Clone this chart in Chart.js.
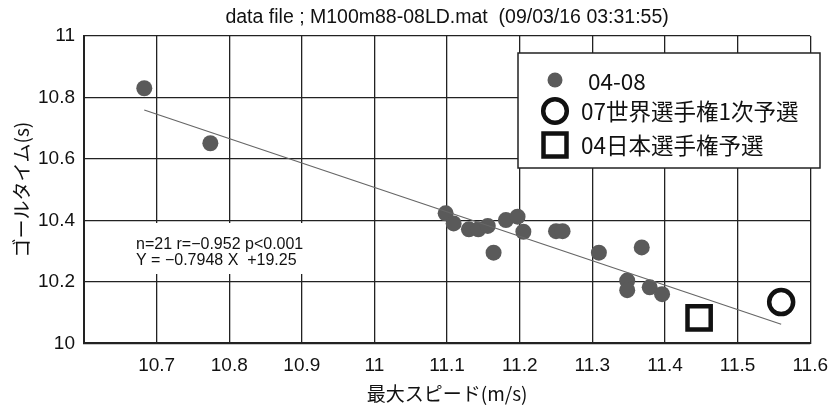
<!DOCTYPE html>
<html>
<head>
<meta charset="utf-8">
<script src="https://cdn.jsdelivr.net/npm/chart.js@4.4.1/dist/chart.umd.min.js"></script>
<style>
  html, body { margin: 0; padding: 0; background: #fff; }
  #wrap { width: 839px; height: 408px; }
</style>
</head>
<body>
<div id="wrap"><canvas id="c"></canvas></div>
<script>
const titleText = "data file ; M100m88-08LD.mat  (09/03/16 03:31:55)";
const xTitle = "最大スピード(m/s)";
const yTitle = "ゴールタイム(s)";
const seriesNames = ["04-08", "07世界選手権1次予選", "04日本選手権予選"];

// 04-08 races
const speed0408 = [10.683, 10.774, 11.098, 11.109, 11.130, 11.143, 11.156, 11.164, 11.181, 11.197,
                   11.205, 11.250, 11.259, 11.309, 11.368, 11.348, 11.348, 11.379, 11.396];
const time0408  = [10.830, 10.651, 10.423, 10.390, 10.371, 10.371, 10.382, 10.295, 10.401, 10.412,
                   10.363, 10.365, 10.365, 10.295, 10.312, 10.204, 10.173, 10.182, 10.160];
const speedWorld07 = [11.560];
const timeWorld07  = [10.134];
const speedJapan04 = [11.447];
const timeJapan04  = [10.083];

const slope = -0.7948;
const intercept = 19.25;
const statLines = ["n=21 r=\u22120.952 p<0.001", "Y = \u22120.7948 X  +19.25"];

const xTicks = [10.6, 11.6, 0.1];
const yTicks = [10, 11, 0.2];

const pts = (xs, ys) => xs.map((x, i) => ({ x: x, y: ys[i] }));
const allX = speed0408.concat(speedWorld07, speedJapan04);
const xLo = Math.min(...allX), xHi = Math.max(...allX);
const fitLine = [xLo, xHi].map(x => ({ x: x, y: slope * x + intercept }));

const DOT = "#5a5a5a";
const INK = "#111";

const extras = {
  id: "extras",
  afterDraw(chart) {
    const ctx = chart.ctx;
    const ca = chart.chartArea;
    ctx.save();
    // title
    ctx.fillStyle = INK;
    ctx.font = "19.5px 'Liberation Sans'";
    ctx.textAlign = "center";
    ctx.textBaseline = "middle";
    ctx.fillText(titleText, (ca.left + ca.right) / 2, 18);

    // stats text
    ctx.fillStyle = "#fff";
    ctx.fillRect(95, 223, 225, 51);
    ctx.fillStyle = INK;
    ctx.font = "16px 'Liberation Sans'";
    ctx.textAlign = "left";
    ctx.fillText(statLines[0], 136, 245);
    ctx.fillText(statLines[1], 136, 261);

    // legend
    ctx.fillStyle = "#fff";
    ctx.fillRect(518, 53, 302, 115);
    ctx.strokeStyle = "#222";
    ctx.lineWidth = 1.5;
    ctx.strokeRect(518, 53, 302, 115);

    ctx.fillStyle = DOT;
    ctx.beginPath(); ctx.arc(555, 80, 7.5, 0, Math.PI * 2); ctx.fill();
    ctx.strokeStyle = INK;
    ctx.lineWidth = 4.5;
    ctx.beginPath(); ctx.arc(555, 111, 11.8, 0, Math.PI * 2); ctx.stroke();
    ctx.strokeRect(555 - 11.5, 145 - 11.5, 23, 23);

    ctx.fillStyle = INK;
    ctx.font = "22.5px 'Noto Sans CJK JP'";
    ctx.fillText(seriesNames[0], 588, 81);
    ctx.fillText(seriesNames[1], 581, 111);
    ctx.fillText(seriesNames[2], 581, 145);
    ctx.restore();
  }
};

new Chart(document.getElementById("c").getContext("2d"), {
  type: "scatter",
  data: {
    datasets: [
      {
        label: "fit",
        type: "line",
        data: fitLine,
        borderColor: "#666",
        borderWidth: 1.2,
        pointRadius: 0,
        fill: false,
        order: 0
      },
      {
        label: seriesNames[0],
        data: pts(speed0408, time0408),
        backgroundColor: DOT,
        borderWidth: 0,
        pointRadius: 8,
        order: 1
      },
      {
        label: seriesNames[1],
        data: pts(speedWorld07, timeWorld07),
        pointStyle: "circle",
        backgroundColor: "rgba(0,0,0,0)",
        borderColor: INK,
        borderWidth: 4.5,
        pointRadius: 12,
        order: 1
      },
      {
        label: seriesNames[2],
        data: pts(speedJapan04, timeJapan04),
        pointStyle: "rect",
        backgroundColor: "rgba(0,0,0,0)",
        borderColor: INK,
        borderWidth: 4.5,
        pointRadius: 16.4,
        order: 1
      }
    ]
  },
  options: {
    responsive: true,
    maintainAspectRatio: false,
    animation: false,
    layout: { padding: { top: 36, right: 22.3, left: 0, bottom: 0 } },
    plugins: {
      legend: { display: false },
      tooltip: { enabled: false },
      title: { display: false }
    },
    scales: {
      x: {
        type: "linear",
        min: xTicks[0], max: xTicks[1],
        afterFit: s => { s.height = 64.7; },
        ticks: {
          stepSize: xTicks[2],
          padding: 11,
          color: INK,
          font: { family: "'Liberation Sans'", size: 19 },
          callback: (v, i) => i === 0 ? "" : String(+v.toFixed(1))
        },
        grid: { color: "#222", lineWidth: 1.3, drawTicks: false },
        border: { color: "#222", width: 2 },
        title: {
          display: true,
          text: xTitle,
          color: INK,
          font: { family: "'Noto Sans CJK JP'", size: 19 },
          padding: { top: 0, bottom: 3 }
        }
      },
      y: {
        min: yTicks[0], max: yTicks[1],
        afterFit: s => { s.width = 84; },
        ticks: {
          stepSize: yTicks[2],
          padding: 9,
          color: INK,
          font: { family: "'Liberation Sans'", size: 19 },
          callback: v => String(+v.toFixed(1))
        },
        grid: { color: "#222", lineWidth: 1.3, drawTicks: false },
        border: { color: "#222", width: 2 },
        title: {
          display: true,
          text: yTitle,
          color: INK,
          font: { family: "'Noto Sans CJK JP'", size: 19 },
          padding: { top: 10, bottom: 0 }
        }
      }
    }
  },
  plugins: [extras]
});
</script>
</body>
</html>
